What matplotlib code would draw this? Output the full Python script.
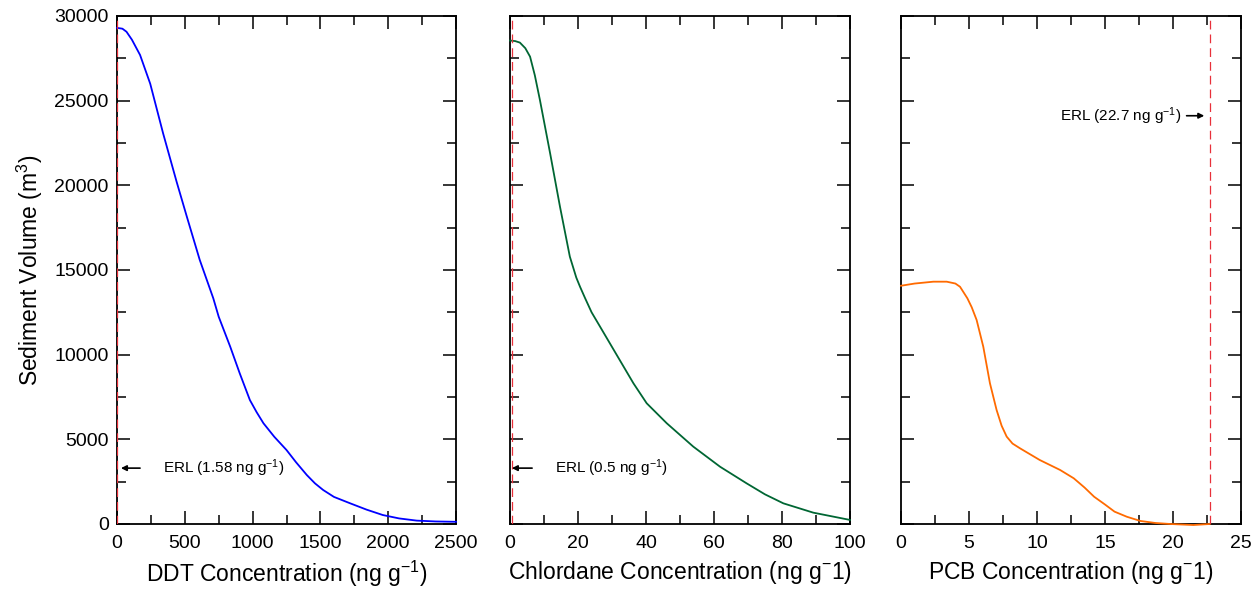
import numpy as np
import matplotlib
matplotlib.use('Agg')
import matplotlib.pyplot as plt
from matplotlib.ticker import MultipleLocator

plt.rcParams['font.family'] = ['Liberation Sans', 'DejaVu Sans']
plt.rcParams['mathtext.fontset'] = 'custom'
plt.rcParams['mathtext.rm'] = 'Liberation Sans'
plt.rcParams['mathtext.it'] = 'Liberation Sans'
plt.rcParams['mathtext.bf'] = 'Liberation Sans'

# datos
ddt_x = [0, 40, 70, 110, 170, 245, 340, 440, 515, 610, 710, 750, 835, 905, 980,
         1030, 1080, 1160, 1250, 1320, 1400, 1460, 1520, 1600, 1720, 1840, 1960,
         2080, 2210, 2350, 2500]
ddt_y = [29300, 29250, 29070, 28600, 27700, 26000, 23070, 20200, 18150, 15600,
         13330, 12240, 10470, 8900, 7320, 6600, 5950, 5150, 4370, 3650, 2890,
         2400, 2010, 1600, 1220, 850, 530, 330, 200, 150, 130]

chl_x = [0, 1.5, 2.9, 4.5, 5.9, 7.3, 8.8, 11.8, 14.7, 17.6, 19.5, 20.6, 22.1, 24,
         26.5, 31.4, 36.3, 40.2, 46.1, 53.9, 61.8, 69.6, 75, 80.4, 89.2, 100]
chl_y = [28550, 28520, 28430, 28100, 27600, 26500, 25040, 21890, 18740, 15790,
         14550, 14010, 13330, 12500, 11650, 9980, 8310, 7130, 5950, 4570, 3380,
         2400, 1750, 1220, 670, 240]

pcb_x = [0, 1, 2.38, 3.36, 4.0, 4.34, 4.88, 5.2, 5.56, 6.05, 6.54, 7.03, 7.4,
         7.77, 8.2, 8.75, 10.2, 11.7, 12.7, 13.5, 14.2, 15.0, 15.7, 16.6, 17.6,
         18.7, 19.8, 21.5, 22.7]
pcb_y = [14070, 14200, 14310, 14310, 14200, 14010, 13330, 12800, 12050, 10470,
         8310, 6730, 5800, 5160, 4750, 4470, 3780, 3190, 2700, 2150, 1610, 1150,
         730, 430, 180, 60, 0, -60, 0]

erl = [1.58, 0.5, 22.7]

fig = plt.figure(figsize=(12.6, 5.9), dpi=100)
lefts = [117, 510, 901]
widths = [339, 340, 340]
axes = [fig.add_axes([l / 1260, 66 / 590, w / 1260, 508 / 590]) for l, w in zip(lefts, widths)]

series = [(ddt_x, ddt_y, '#0000ff'), (chl_x, chl_y, '#006633'), (pcb_x, pcb_y, '#ff6a00')]
xlims = [2500, 100, 25]
xmaj = [500, 20, 5]
xmin_ = [250, 10, 2.5]
xlabels = ['DDT Concentration (ng g$^{-1}$)',
           'Chlordane Concentration (ng g$^{-}$1)',
           'PCB Concentration (ng g$^{-}$1)']
erl_txt = ['ERL (1.58 ng g$^{-1}$)', 'ERL (0.5 ng g$^{-1}$)', 'ERL (22.7 ng g$^{-1}$)']

for i, ax in enumerate(axes):
    sx, sy, c = series[i]
    ax.plot(sx, sy, color=c, lw=1.3, zorder=3, clip_on=False)
    ax.axvline(erl[i], color='#e8303a', lw=0.9, ls=(0, (7, 4)), zorder=3)
    ax.set_xlim(0, xlims[i])
    ax.set_ylim(0, 30000)
    ax.xaxis.set_major_locator(MultipleLocator(xmaj[i]))
    ax.xaxis.set_minor_locator(MultipleLocator(xmin_[i]))
    ax.yaxis.set_major_locator(MultipleLocator(5000))
    ax.yaxis.set_minor_locator(MultipleLocator(2500))
    ax.tick_params(which='both', direction='in', top=True, right=True, width=1.1, labelsize=14)
    ax.tick_params(which='major', length=9.5)
    ax.tick_params(which='minor', length=6.5)
    ax.tick_params(axis='x', pad=8)
    ax.tick_params(axis='y', pad=6)
    for s in ax.spines.values():
        s.set_linewidth(1.3)
    ax.set_xlabel(xlabels[i], fontsize=16.5, labelpad=5)
    if i > 0:
        ax.set_yticklabels([])

axes[0].set_ylabel('Sediment Volume (m$^3$)', fontsize=16.5, labelpad=7)

# flechas ERL
arw = dict(arrowstyle='-|>', color='black', lw=1.2, mutation_scale=8, shrinkA=0, shrinkB=0)
axes[0].annotate('', xy=(29, 3300), xytext=(170, 3300), arrowprops=arw)
axes[0].text(341, 3300, erl_txt[0], fontsize=11, va='center', ha='left')
axes[1].annotate('', xy=(0.55, 3300), xytext=(6.5, 3300), arrowprops=arw)
axes[1].text(13.2, 3300, erl_txt[1], fontsize=11, va='center', ha='left')
axes[2].annotate('', xy=(22.3, 24110), xytext=(21.0, 24110), arrowprops=arw)
axes[2].text(20.65, 24110, erl_txt[2], fontsize=11, va='center', ha='right')

fig.savefig('out.png', dpi=100)
